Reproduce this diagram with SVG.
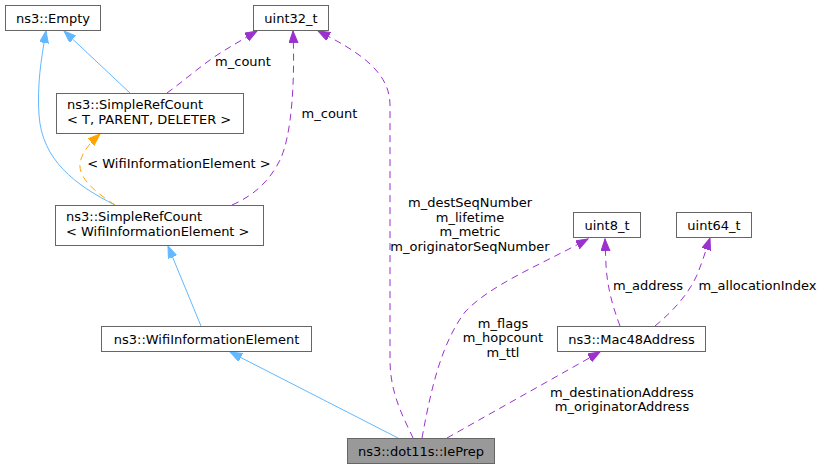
<svg xmlns="http://www.w3.org/2000/svg" width="825" height="469" viewBox="0 0 825 469">
<style>
text{font-family:"DejaVu Sans","Liberation Sans",sans-serif;font-size:13px;fill:#000}
.c{text-anchor:middle}
.box{fill:#fff;stroke:#666;stroke-width:1}
.main{fill:#999;stroke:#666;stroke-width:1}
.inh{fill:none;stroke:#63b8ff;stroke-width:1}
.use{fill:none;stroke:#9a32cd;stroke-width:1;stroke-dasharray:7,5}
.tpl{fill:none;stroke:#ffa500;stroke-width:1;stroke-dasharray:7,5}
</style>
<defs>
<marker id="aB" markerUnits="userSpaceOnUse" markerWidth="13" markerHeight="10" refX="12" refY="4.5" orient="auto"><path d="M0,0 L12,4.5 L0,9 z" fill="#63b8ff" stroke="#63b8ff"/></marker>
<marker id="aP" markerUnits="userSpaceOnUse" markerWidth="13" markerHeight="10" refX="12" refY="4.5" orient="auto"><path d="M0,0 L12,4.5 L0,9 z" fill="#9a32cd" stroke="#9a32cd"/></marker>
<marker id="aO" markerUnits="userSpaceOnUse" markerWidth="13" markerHeight="10" refX="12" refY="4.5" orient="auto"><path d="M0,0 L12,4.5 L0,9 z" fill="#ffa500" stroke="#ffa500"/></marker>
</defs>
<g id="connectors">
<path class="inh" marker-end="url(#aB)" d="M130,93 L64,31"/>
<path class="inh" marker-end="url(#aB)" d="M115,205 C75,185 42,160 39,115 C37,85 41,60 46,31"/>
<path class="tpl" marker-end="url(#aO)" d="M115,205 C100,195 78,180 80,163 C82,152 90,143 100,134"/>
<path class="use" marker-end="url(#aP)" d="M167,93 C185,80 205,62 225,50 C235,44 245,38 257,31"/>
<path class="use" marker-end="url(#aP)" d="M232,205 C255,195 270,180 280,160 C292,135 295,80 293,31"/>
<path class="use" marker-end="url(#aP)" d="M413,438 C405,420 390,395 390,360 L390,105 C390,70 355,50 318,31"/>
<path class="inh" marker-end="url(#aB)" d="M201,326 L168,246"/>
<path class="inh" marker-end="url(#aB)" d="M398,438 L230,352"/>
<path class="use" marker-end="url(#aP)" d="M422,438 C430,395 440,345 465,312 C490,285 540,265 588,239"/>
<path class="use" marker-end="url(#aP)" d="M620,326 C612,305 607,285 606,265 L605,239"/>
<path class="use" marker-end="url(#aP)" d="M655,326 C672,312 688,295 697,275 C702,263 706,250 710,238"/>
<path class="use" marker-end="url(#aP)" d="M447,438 L600,352"/>
<text x="243" y="65.5" class="c">m_count</text>
<text x="329.5" y="117.5" class="c">m_count</text>
<text x="179" y="168" class="c">&lt; WifiInformationElement &gt;</text>
<text x="470" y="207" class="c">m_destSeqNumber</text>
<text x="470" y="221.5" class="c">m_lifetime</text>
<text x="470" y="236" class="c">m_metric</text>
<text x="470" y="250.5" class="c">m_originatorSeqNumber</text>
<text x="503" y="327.5" class="c">m_flags</text>
<text x="503" y="342" class="c">m_hopcount</text>
<text x="503" y="356.5" class="c">m_ttl</text>
<text x="648" y="289.5" class="c">m_address</text>
<text x="757.5" y="289.5" class="c">m_allocationIndex</text>
<text x="622" y="396.5" class="c">m_destinationAddress</text>
<text x="622" y="411" class="c">m_originatorAddress</text>
</g>
<g id="node-empty"><rect class="box" x="5.5" y="5.5" width="95" height="25"/><text x="53" y="22.5" class="c">ns3::Empty</text></g>
<g id="node-uint32"><rect class="box" x="253.5" y="5.5" width="75" height="25"/><text x="291" y="22.5" class="c">uint32_t</text></g>
<g id="node-src-t"><rect class="box" x="56.5" y="93.5" width="187" height="40"/><text x="67" y="108.5">ns3::SimpleRefCount</text><text x="67" y="123.5">&lt; T, PARENT, DELETER &gt;</text></g>
<g id="node-src-wie"><rect class="box" x="55.5" y="205.5" width="208" height="40"/><text x="66" y="220.5">ns3::SimpleRefCount</text><text x="66" y="235.5">&lt; WifiInformationElement &gt;</text></g>
<g id="node-wie"><rect class="box" x="101.5" y="326.5" width="210" height="25"/><text x="206.5" y="343.5" class="c">ns3::WifiInformationElement</text></g>
<g id="node-ieprep"><rect class="main" x="347.5" y="438.5" width="147" height="25"/><text x="421" y="455.5" class="c">ns3::dot11s::IePrep</text></g>
<g id="node-uint8"><rect class="box" x="573.5" y="212.5" width="67" height="25"/><text x="607" y="229.5" class="c">uint8_t</text></g>
<g id="node-uint64"><rect class="box" x="676.5" y="212.5" width="75" height="25"/><text x="714" y="229.5" class="c">uint64_t</text></g>
<g id="node-mac48"><rect class="box" x="557.5" y="326.5" width="148" height="25"/><text x="631.5" y="343.5" class="c">ns3::Mac48Address</text></g>
</svg>
